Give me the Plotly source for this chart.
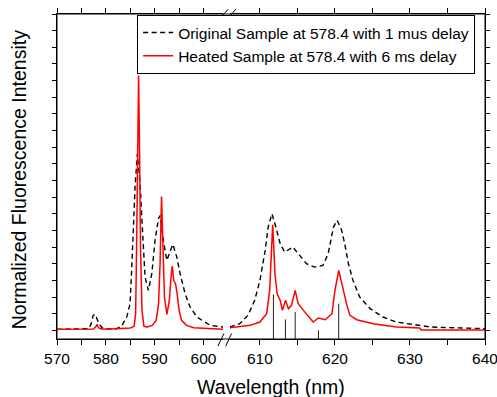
import plotly.graph_objects as go

# ---------------- data ----------------
# Heated sample (red), left segment (570-604 nm)
red_left_x = [570.0, 572.0, 574.0, 576.0, 577.5, 578.0, 578.2, 578.5, 579.0, 581.0, 583.0, 585.0,
              585.8, 586.1, 586.3, 586.5, 586.7, 586.9, 587.1, 587.4, 587.8, 588.5, 589.5, 590.3,
              590.8, 591.1, 591.4, 591.7, 592.0, 592.5, 593.0, 593.4, 593.6, 593.9, 594.3, 594.6,
              595.0, 595.5, 596.5, 598.0, 600.0, 602.0, 604.0]
red_left_y = [0.003, 0.003, 0.003, 0.003, 0.004, 0.012, 0.018, 0.008, 0.004, 0.004, 0.005, 0.007,
              0.012, 0.05, 0.25, 0.55, 0.765, 0.55, 0.25, 0.06, 0.012, 0.01, 0.015, 0.03,
              0.08, 0.2, 0.402, 0.25, 0.1, 0.048, 0.09, 0.17, 0.193, 0.15, 0.138, 0.11,
              0.06, 0.03, 0.015, 0.008, 0.006, 0.004, 0.003]
# Heated sample (red), right segment (606-640 nm)
red_right_x = [606.0, 607.5, 608.7, 610.0, 610.9, 611.3, 611.55, 611.7, 611.85, 612.0, 612.3, 612.7,
               613.0, 613.4, 613.8, 614.2, 614.7, 615.1, 615.8, 616.7, 617.1, 617.8, 618.7, 619.6,
               620.0, 620.5, 621.1, 621.6, 622.0, 622.9, 625.1, 626.4, 628.2, 631.3, 631.5, 635.0, 640.0]
red_right_y = [0.008, 0.011, 0.015, 0.025, 0.05, 0.12, 0.25, 0.317, 0.25, 0.17, 0.11, 0.09,
               0.06, 0.09, 0.065, 0.075, 0.12, 0.08, 0.06, 0.035, 0.025, 0.037, 0.032, 0.05,
               0.12, 0.18, 0.12, 0.075, 0.045, 0.032, 0.02, 0.015, 0.01, 0.007, 0.001, 0.001, 0.001]

# Original sample (black dashed), left segment
blk_left_x = [570.0, 575.0, 576.5, 577.0, 577.4, 577.8, 578.2, 578.6, 579.2, 579.8, 581.9, 583.2,
              584.28, 584.96, 585.31, 585.64, 585.98, 586.45, 587.01, 587.36, 587.68, 588.03, 588.71,
              589.41, 590.08, 590.76, 591.11, 591.78, 592.48, 593.71, 594.53, 595.2, 596.23, 597.25,
              598.63, 600.68, 601.37, 604.0]
blk_left_y = [0.003, 0.003, 0.005, 0.02, 0.045, 0.048, 0.035, 0.02, 0.008, 0.005, 0.003, 0.012,
              0.04, 0.08, 0.19, 0.31, 0.43, 0.53, 0.44, 0.34, 0.23, 0.16, 0.12,
              0.17, 0.27, 0.335, 0.345, 0.27, 0.21, 0.258, 0.22, 0.17, 0.11, 0.07,
              0.04, 0.02, 0.015, 0.01]
# Original sample (black dashed), right segment
blk_right_x = [606.0, 607.3, 608.4, 609.3, 610.0, 610.7, 611.1, 611.6, 612.0, 612.7, 613.3, 614.4,
               615.3, 616.2, 617.3, 618.4, 619.1, 619.8, 620.3, 620.9, 621.3, 621.8, 622.4, 623.3,
               624.7, 626.4, 628.2, 630.4, 632.7, 637.1, 640.0]
blk_right_y = [0.01, 0.02, 0.045, 0.09, 0.15, 0.24, 0.31, 0.35, 0.32, 0.26, 0.235, 0.25,
               0.225, 0.2, 0.19, 0.195, 0.23, 0.31, 0.33, 0.30, 0.26, 0.2, 0.15, 0.1,
               0.065, 0.04, 0.025, 0.017, 0.01, 0.007, 0.005]

# Reference stick lines
stick_x = [611.8, 613.4, 614.7, 617.8, 620.5]
stick_y = [0.108, 0.033, 0.055, 0.0, 0.08]

left_ticks = [570, 575, 580, 585, 590, 595, 600]
right_ticks = [610, 615, 620, 625, 630, 635, 640]
y_ticks = [round(0.05 * i, 2) for i in range(20)]

names = ["Original Sample at 578.4 with 1 mus delay", "Heated Sample at 578.4 with 6 ms delay"]

# ---------------- layout constants ----------------
Y_MIN, Y_MAX = -0.026, 0.95
LEFT_RANGE = [570, 604]
RIGHT_RANGE = [606, 640]
DOM_L = [0.0, 0.388]
DOM_R = [0.404, 1.0]
FONT = "Liberation Sans, Arial, sans-serif"

fig = go.Figure()

dash_style = dict(color="black", width=1.4, dash="5px,3.5px")
red_style = dict(color="#ff0000", width=1.5)

fig.add_trace(go.Scatter(x=blk_left_x, y=blk_left_y, mode="lines", line=dash_style,
                         name=names[0], legendgroup="o", xaxis="x", yaxis="y"))
fig.add_trace(go.Scatter(x=red_left_x, y=red_left_y, mode="lines", line=red_style,
                         name=names[1], legendgroup="h", xaxis="x", yaxis="y"))
fig.add_trace(go.Scatter(x=blk_right_x, y=blk_right_y, mode="lines", line=dash_style,
                         name=names[0], legendgroup="o", showlegend=False, xaxis="x2", yaxis="y2"))
fig.add_trace(go.Scatter(x=red_right_x, y=red_right_y, mode="lines", line=red_style,
                         name=names[1], legendgroup="h", showlegend=False, xaxis="x2", yaxis="y2"))

sx, sy = [], []
for xv, yv in zip(stick_x, stick_y):
    sx += [xv, xv, None]
    sy += [Y_MIN, yv, None]
fig.add_trace(go.Scatter(x=sx, y=sy, mode="lines", line=dict(color="#222222", width=1),
                         showlegend=False, xaxis="x2", yaxis="y2", hoverinfo="skip"))

axis_common = dict(showgrid=False, zeroline=False, showline=True, linecolor="black", linewidth=1,
                   mirror="ticks", ticks="outside", ticklen=5, tickcolor="black", tickwidth=1,
                   tickfont=dict(family=FONT, size=15.5, color="black"), tickmode="array",
                   ticklabeloverflow="allow", automargin=False)
y_common = dict(range=[Y_MIN, Y_MAX], showgrid=False, zeroline=False, showline=True,
                linecolor="black", linewidth=1, ticks="outside", ticklen=4,
                tickcolor="black", tickmode="array", tickvals=y_ticks, showticklabels=False,
                automargin=False)

fig.update_layout(
    width=497, height=397,
    margin=dict(l=57, r=12, t=14, b=58, autoexpand=False),
    paper_bgcolor="white", plot_bgcolor="white",
    xaxis=dict(domain=DOM_L, range=LEFT_RANGE, anchor="y",
               tickvals=left_ticks, ticktext=[str(t) if t % 10 == 0 else "" for t in left_ticks],
               **axis_common),
    xaxis2=dict(domain=DOM_R, range=RIGHT_RANGE, anchor="y2",
                tickvals=right_ticks, ticktext=[str(t) if t % 10 == 0 else "" for t in right_ticks],
                **axis_common),
    yaxis=dict(anchor="x", side="left", **y_common),
    yaxis2=dict(anchor="x2", side="right", matches="y", **y_common),
    legend=dict(x=0.977, y=0.997, xanchor="right", yanchor="top", bgcolor="white",
                bordercolor="black", borderwidth=1, font=dict(family=FONT, size=15.5, color="black"),
                tracegroupgap=0, itemwidth=30),
    showlegend=True,
    font=dict(family=FONT, color="black"),
)

# frame across the break
fig.add_shape(type="rect", xref="paper", yref="paper", x0=0, x1=1, y0=0, y1=1,
              line=dict(color="black", width=1), layer="above")

# break marks (//) at bottom and top
gap_mid = (DOM_L[1] + DOM_R[0]) / 2
for y0, y1, off in [(-0.022, 0.017, -0.004), (0.994, 1.015, 0.006)]:
    for dx in (-0.009, 0.009):
        xc = gap_mid + dx + off
        fig.add_shape(type="line", xref="paper", yref="paper",
                      x0=xc - 0.007, x1=xc + 0.007, y0=y0, y1=y1,
                      line=dict(color="black", width=1))

fig.add_annotation(text="Wavelength (nm)", xref="paper", yref="paper", x=0.5, y=-0.148,
                   xanchor="center", yanchor="middle", showarrow=False,
                   font=dict(family=FONT, size=19.5, color="black"))
fig.add_annotation(text="Normalized Fluorescence Intensity", xref="paper", yref="paper",
                   x=-0.09, y=0.49, xanchor="center", yanchor="middle", textangle=-90,
                   showarrow=False, font=dict(family=FONT, size=19.5, color="black"))

fig.write_html("out.html")
